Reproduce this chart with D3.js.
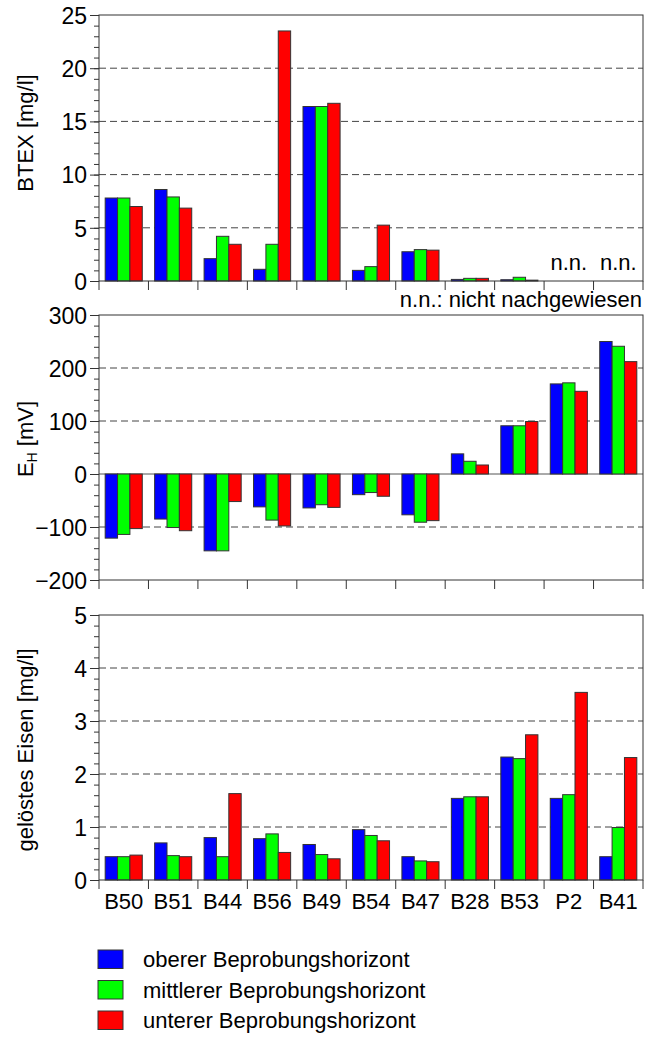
<!DOCTYPE html>
<html>
<head>
<meta charset="utf-8">
<script src="https://cdn.jsdelivr.net/npm/d3@7"></script>
<style>
  body { margin: 0; background: #fff; }
  svg { display: block; }
  svg text { font-family: "Liberation Sans", Arial, sans-serif; }
</style>
</head>
<body>
<svg width="645" height="1037"></svg>
<script>
// Messstellen und Horizonte
var categories = ['B50', 'B51', 'B44', 'B56', 'B49', 'B54', 'B47', 'B28', 'B53', 'P2', 'B41'];
var series = ['oberer Beprobungshorizont', 'mittlerer Beprobungshorizont', 'unterer Beprobungshorizont'];
var colors = ['#0000ff', '#00ff00', '#ff0000'];

// BTEX [mg/l], null = n.n.
var btexOben   = [7.8, 8.6, 2.1, 1.1, 16.4, 1.0, 2.75, 0.15, 0.12, null, null];
var btexMitte  = [7.8, 7.9, 4.2, 3.45, 16.4, 1.35, 2.95, 0.25, 0.35, null, null];
var btexUnten  = [7.0, 6.85, 3.45, 23.5, 16.7, 5.25, 2.9, 0.25, 0.08, null, null];

// E_H [mV]
var ehOben  = [-121, -85, -145, -62, -64, -39, -77, 38, 91, 170, 250];
var ehMitte = [-114, -101, -145, -87, -58, -35, -91, 24, 91, 172, 241];
var ehUnten = [-103, -107, -52, -98, -63, -42, -88, 17, 99, 156, 212];

// geloestes Eisen [mg/l]
var eisenOben  = [0.44, 0.70, 0.80, 0.78, 0.67, 0.95, 0.44, 1.54, 2.32, 1.54, 0.44];
var eisenMitte = [0.44, 0.46, 0.44, 0.87, 0.48, 0.84, 0.36, 1.57, 2.29, 1.61, 0.99];
var eisenUnten = [0.47, 0.44, 1.63, 0.52, 0.40, 0.74, 0.345, 1.57, 2.74, 3.54, 2.31];

// tick-waarden per paneel
var btexTicks = [0, 5, 10, 15, 20, 25];
var ehTicks = [-200, -100, 0, 100, 200, 300];
var eisenTicks = [0, 1, 2, 3, 4, 5];

var left = 99, right = 643;
var font = '"Liberation Sans", Arial, sans-serif';

var svg = d3.select('svg');

// x schalen: groepen en balken binnen een groep
var x0 = d3.scaleBand().domain(categories).range([left, right])
    .paddingInner(0.25).paddingOuter(0.125);
var x1 = d3.scaleBand().domain(d3.range(series.length)).range([0, x0.bandwidth()]);
var xb = d3.scaleBand().domain(categories).range([left, right]).padding(0);

var panels = [
  { values: [btexOben, btexMitte, btexUnten], domain: [0, 25], top: 15, bottom: 281,
    ticks: btexTicks, minor: 1, grid: [5, 10, 15, 20], axisAt: 0, title: 'BTEX [mg/l]', titleY: 133 },
  { values: [ehOben, ehMitte, ehUnten], domain: [-200, 300], top: 315, bottom: 580,
    ticks: ehTicks, minor: 20, grid: [-100, 100, 200], axisAt: -200, zeroLine: true, titleY: 439 },
  { values: [eisenOben, eisenMitte, eisenUnten], domain: [0, 5], top: 615, bottom: 880,
    ticks: eisenTicks, minor: 0.2, grid: [1, 2, 3, 4], axisAt: 0, title: 'gelöstes Eisen [mg/l]', titleY: 750, labels: true }
];

panels.forEach(function(p, pi) {
  var y = d3.scaleLinear().domain(p.domain).range([p.bottom, p.top]);
  var g = svg.append('g').attr('class', 'panel');

  // gestippelde hulplijnen
  g.selectAll('.grid')
    .data(p.grid)
    .enter().append('line')
    .attr('x1', left).attr('x2', right)
    .attr('y1', function(d) { return y(d); })
    .attr('y2', function(d) { return y(d); })
    .attr('stroke', '#444')
    .attr('stroke-width', 1)
    .attr('stroke-dasharray', '7,4');

  if (p.zeroLine) {
    g.append('line')
      .attr('x1', left).attr('x2', right)
      .attr('y1', y(0)).attr('y2', y(0))
      .attr('stroke', '#555');
  }

  // balken
  var rows = [];
  categories.forEach(function(c, i) {
    p.values.forEach(function(s, j) {
      if (s[i] !== null) rows.push({ cat: c, s: j, v: s[i] });
    });
  });

  g.selectAll('.bar')
    .data(rows)
    .enter().append('rect')
    .attr('class', 'bar')
    .attr('x', function(d) { return x0(d.cat) + x1(d.s); })
    .attr('y', function(d) { return Math.min(y(d.v), y(0)); })
    .attr('width', x1.bandwidth())
    .attr('height', function(d) { return Math.abs(y(d.v) - y(0)); })
    .attr('fill', function(d) { return colors[d.s]; })
    .attr('stroke', '#333')
    .attr('stroke-width', 1);

  // kader
  g.append('rect')
    .attr('x', left).attr('y', p.top)
    .attr('width', right - left).attr('height', p.bottom - p.top)
    .attr('fill', 'none')
    .attr('stroke', '#333');

  // y as: kleine en grote streepjes
  var minorTicks = d3.range(p.domain[0], p.domain[1] + p.minor / 2, p.minor);
  g.append('g')
    .attr('transform', 'translate(' + left + ',0)')
    .call(d3.axisLeft(y).tickValues(minorTicks).tickSize(5).tickFormat(''))
    .call(function(a) { a.select('.domain').remove(); a.selectAll('line').attr('stroke', '#333'); });

  g.append('g')
    .attr('transform', 'translate(' + left + ',0)')
    .call(d3.axisLeft(y).tickValues(p.ticks).tickSize(9).tickPadding(3).tickFormat(d3.format('d')))
    .call(function(a) {
      a.select('.domain').remove();
      a.attr('font-family', font);
      a.selectAll('line').attr('stroke', '#333');
      a.selectAll('text').attr('font-size', 23).attr('fill', '#000').attr('dy', '0.36em');
    });

  // x as streepjes op de groepsgrenzen
  var yAxis = y(p.axisAt);
  var edges = categories.map(function(c) { return xb(c); }).concat([right]);
  g.selectAll('.xtick')
    .data(edges)
    .enter().append('line')
    .attr('x1', function(d) { return d; }).attr('x2', function(d) { return d; })
    .attr('y1', yAxis).attr('y2', yAxis + 9)
    .attr('stroke', '#333');

  if (p.labels) {
    g.append('g')
      .attr('transform', 'translate(0,' + yAxis + ')')
      .call(d3.axisBottom(x0).tickSize(0).tickPadding(13))
      .call(function(a) {
        a.select('.domain').remove();
        a.attr('font-family', font);
        a.selectAll('text').attr('font-size', 22).attr('fill', '#000').attr('dy', '0.71em');
      });
  }

  // y titel
  var t = g.append('text')
    .attr('transform', 'translate(33,' + p.titleY + ') rotate(-90)')
    .attr('text-anchor', 'middle')
    .attr('font-size', 22)
    .attr('fill', '#000');
  if (p.title) {
    t.text(p.title);
  } else {
    t.append('tspan').text('E');
    t.append('tspan').attr('font-size', 14).attr('dy', 4).text('H');
    t.append('tspan').attr('dy', -4).text(' [mV]');
  }

  // n.n. labels in het BTEX paneel
  if (pi === 0) {
    var nn = categories.filter(function(c, i) {
      return p.values.every(function(s) { return s[i] === null; });
    });
    g.selectAll('.nn')
      .data(nn)
      .enter().append('text')
      .attr('x', function(d) { return x0(d) + x0.bandwidth() / 2; })
      .attr('y', 270)
      .attr('text-anchor', 'middle')
      .attr('font-size', 22)
      .text('n.n.');
    g.append('text')
      .attr('x', 642)
      .attr('y', 307)
      .attr('text-anchor', 'end')
      .attr('font-size', 22)
      .text('n.n.: nicht nachgewiesen');
  }
});

// legenda
var legend = svg.append('g')
  .attr('transform', 'translate(98,950)');

var items = legend.selectAll('.item')
  .data(series)
  .enter().append('g')
  .attr('transform', function(d, i) { return 'translate(0,' + (i * 30.5) + ')'; });

items.append('rect')
  .attr('width', 25).attr('height', 18.5)
  .attr('fill', function(d, i) { return colors[i]; })
  .attr('stroke', '#333');

items.append('text')
  .attr('x', 45)
  .attr('y', 17)
  .attr('font-size', 22)
  .attr('fill', '#000')
  .text(function(d) { return d; });
</script>
</body>
</html>
